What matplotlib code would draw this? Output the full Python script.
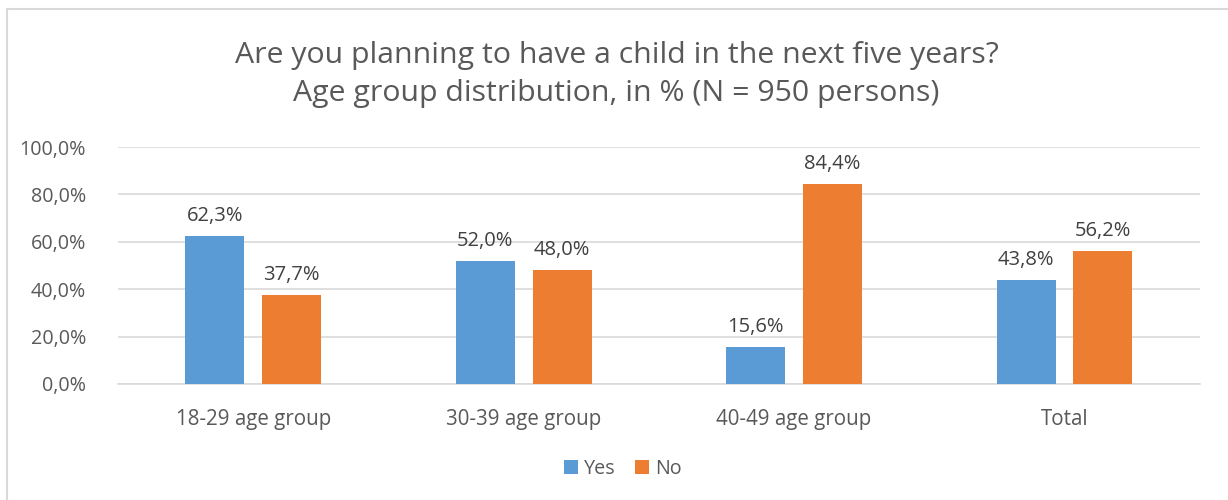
import matplotlib.pyplot as plt
import numpy as np
from matplotlib.patches import Rectangle

# categories and values (in %)
groups = ["18-29 age group", "30-39 age group", "40-49 age group", "Total"]
yes_vals = [62.3, 52.0, 15.6, 43.8]
no_vals = [37.7, 48.0, 84.4, 56.2]
title = "Are you planning to have a child in the next five years?\nAge group distribution, in % (N = 950 persons)"

blue = '#5B9BD5'
orange = '#ED7D31'
txt = '#595959'
grid_c = '#D9D9D9'

plt.rcParams['font.family'] = ['Open Sans', 'DejaVu Sans']

fig = plt.figure(figsize=(12.28, 5.0), dpi=100)
ax = fig.add_axes([0.0961, 0.232, 0.977 - 0.0961, 0.706 - 0.232])

# outer chart border (light gray)
fig.patches.append(Rectangle((7 / 1228, -0.1), 1.2, 1.1 - 9 / 500,
                             transform=fig.transFigure, fill=False,
                             edgecolor='#D9D9D9', linewidth=1.5))

x = np.arange(len(groups))
w = 0.218
off = 0.142

b1 = ax.bar(x - off, yes_vals, width=w, color=blue, label="Yes", zorder=3)
b2 = ax.bar(x + off, no_vals, width=w, color=orange, label="No", zorder=3)

for bars, vals in [(b1, yes_vals), (b2, no_vals)]:
    for b, v in zip(bars, vals):
        ax.text(b.get_x() + b.get_width() / 2, v + 4.2, f"{v:.1f}%".replace('.', ','),
                ha='center', va='bottom', fontsize=14.5, color='#404040')

ax.set_xlim(-0.5, 3.5)
ax.set_ylim(0, 100)
ax.set_yticks(np.arange(0, 101, 20))
ax.set_yticklabels([f"{t:.1f}%".replace('.', ',') for t in np.arange(0, 101, 20)])
ax.set_xticks(x)
ax.set_xticklabels(groups)
ax.tick_params(axis='x', length=0, labelsize=14.8, labelcolor=txt, pad=18)
ax.tick_params(axis='y', length=0, labelsize=14.2, labelcolor=txt, pad=23)

ax.yaxis.grid(True, color=grid_c, linewidth=1.2, zorder=0)
for s in ['top', 'right', 'left']:
    ax.spines[s].set_visible(False)
ax.spines['bottom'].set_color(grid_c)
ax.spines['bottom'].set_linewidth(1.2)

fig.text(0.502, 0.851, title, ha='center', va='center', fontsize=21.8,
         color=txt, linespacing=1.45)

fig.legend(loc='center', bbox_to_anchor=(0.507, 0.062), ncol=2, frameon=False,
           fontsize=14.2, handlelength=0.7, handleheight=0.7, handletextpad=0.3,
           columnspacing=1.0, labelcolor=txt)

fig.savefig('out.png', dpi=100)
